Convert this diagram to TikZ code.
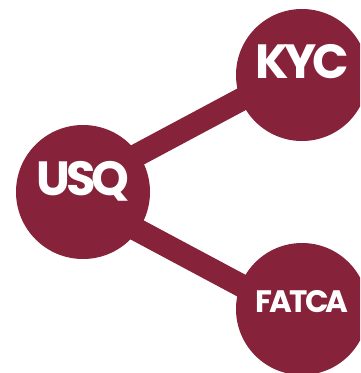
\documentclass[tikz,border=0pt]{standalone}
\usepackage{fontspec}
\setmainfont{Poppins}[LetterSpace=-9]
\usetikzlibrary{shapes,backgrounds}
\definecolor{usqred}{RGB}{134,34,57}

\begin{document}
\begin{tikzpicture}[x=1pt,y=1pt]
 \tikzstyle{bubble}=[circle,fill=usqred,minimum size=134pt,inner sep=0pt,text=white,
   text height=0.7em,text depth=0pt,font=\bfseries\fontsize{48}{48}\selectfont]
 \tikzstyle{small bubble}=[bubble,font=\bfseries\fontsize{31}{31}\selectfont]
 \tikzstyle{link}=[draw=usqred,line width=23pt]
 \useasboundingbox (0,0) rectangle (360,-373);
 \clip (0,0) rectangle (360,-373);

   \node[bubble] (usq) at (83,-192) {USQ};
   \node[bubble,minimum size=132pt] (kyc) at (302,-75) {KYC};
   \node[small bubble,minimum size=132pt] (fatca) at (302,-309) {FATCA};

 \begin{scope}[on background layer]
   \draw[link] ([yshift=8pt]usq.center) -- ([yshift=8pt]kyc.center);
   \draw[link] ([yshift=-9pt]usq.center) -- ([yshift=-9pt]fatca.center);
 \end{scope}
\end{tikzpicture}
\end{document}
